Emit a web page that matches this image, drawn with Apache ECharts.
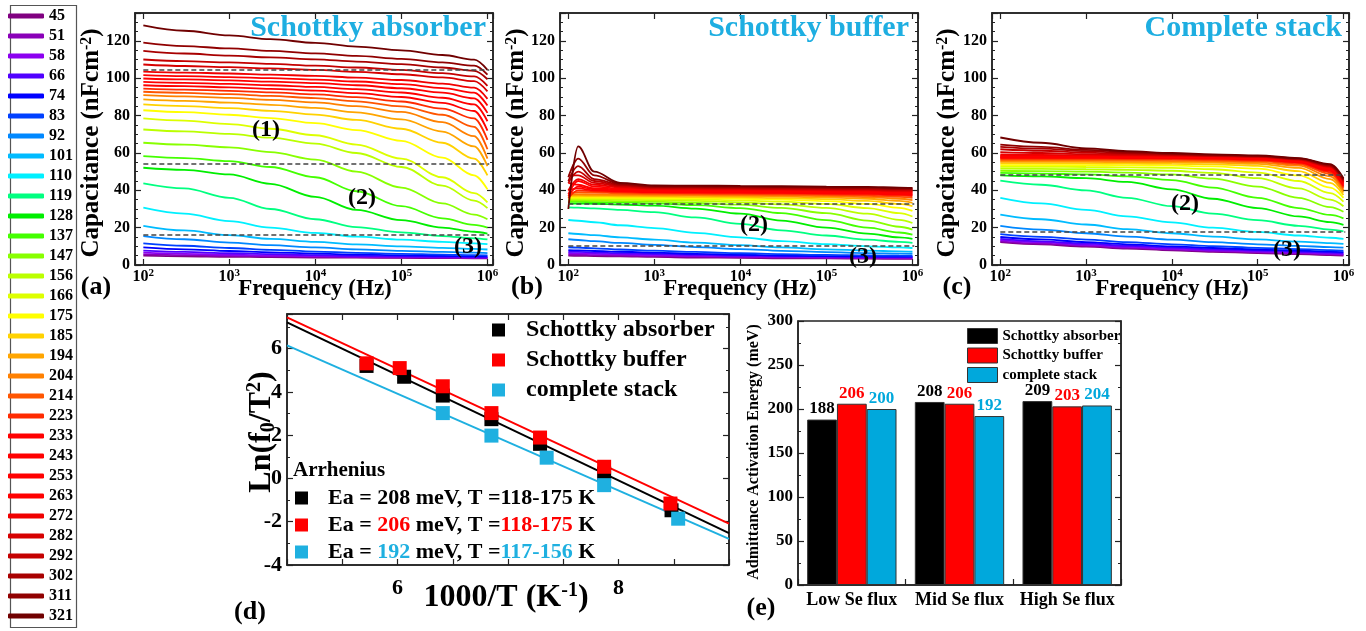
<!DOCTYPE html>
<html><head><meta charset="utf-8">
<script src="https://cdn.jsdelivr.net/npm/echarts@6/dist/echarts.min.js"></script>
<style>html,body{margin:0;padding:0;background:#fff}#c{width:1366px;height:631px}</style>
</head><body><div id="c"></div>
<script>
// ---------------- DATA ----------------
const TEMPS = ['45','51','58','66','74','83','92','101','110','119','128','137','147','156','166','175','185','194','204','214','223','233','243','253','263','272','282','292','302','311','321'];
const LINE_COLORS = ['#800080','#8a00b8','#8c00f0','#5000ff','#0000ff','#0040ff','#0088ff','#00bbff','#00f0ff','#00ff80','#00ee00','#44ff00','#88ff00','#bbff00','#ddff00','#ffff00','#ffd200','#ffa500','#ff8000','#ff5500','#ff2a00','#ff0000','#ff0000','#ff0000','#ff0000','#f00000','#d60000','#c40000','#a80000','#900000','#700000'];

// frequencies (Hz) of the sampled points
const FREQ = [100, 300, 1000, 3000, 1e4, 3e4, 1e5, 3e5, 7e5, 1e6];
const FREQ_B = [100, 130, 200, 400, 1000, 3000, 1e4, 3e4, 1e5, 3e5, 7e5, 1e6];

// (a) Schottky absorber, capacitance nF/cm2, one row per temperature
const CAP_A = [
 [5.0,4.7,4.4,4.2,4.0,3.9,3.8,3.7,3.6,3.5],
 [5.7,5.3,4.9,4.6,4.4,4.2,4.0,3.9,3.8,3.7],
 [6.6,6.0,5.5,5.1,4.8,4.5,4.3,4.1,4.0,3.9],
 [7.7,7.0,6.3,5.8,5.3,4.9,4.6,4.4,4.2,4.1],
 [9.4,8.4,7.5,6.8,6.1,5.6,5.2,4.9,4.7,4.6],
 [11.6,10.3,9.1,8.1,7.2,6.5,6.0,5.6,5.3,5.2],
 [15.5,13.8,12.0,10.6,9.4,8.4,7.6,7.0,6.6,6.4],
 [21.0,18.5,16.0,14.0,12.4,11.1,10.0,9.2,8.6,8.3],
 [30.7,27.5,23.5,20.0,17.2,15.2,13.6,12.4,11.6,11.2],
 [43.7,41.0,36.0,30.0,24.5,20.3,17.5,15.5,14.3,13.7],
 [52.1,51.0,48.5,43.5,36.5,29.5,24.0,20.0,17.8,16.8],
 [58.3,57.3,55.7,52.5,47.0,39.5,31.5,25.0,21.5,20.0],
 [65.5,64.5,63.0,60.5,56.5,50.0,41.5,33.0,27.0,24.5],
 [72.6,71.6,70.2,68.2,65.0,60.0,52.5,42.5,34.5,30.5],
 [78.5,77.3,75.5,73.0,69.5,64.5,57.0,47.0,38.5,33.5],
 [82.9,81.9,80.5,78.7,76.0,72.3,66.5,57.5,48.0,40.5],
 [86.0,85.1,84.0,82.6,80.6,77.7,73.0,65.5,57.0,48.0],
 [88.7,87.9,87.0,85.8,84.2,81.8,78.0,71.5,63.5,53.0],
 [91.0,90.3,89.5,88.5,87.1,85.1,82.0,76.5,69.0,57.0],
 [92.8,92.2,91.5,90.6,89.4,87.7,85.0,80.5,74.0,62.0],
 [94.5,94.0,93.3,92.5,91.4,89.9,87.6,83.8,78.5,67.0],
 [96.3,95.8,95.2,94.4,93.4,92.1,90.0,86.8,82.5,72.0],
 [98.1,97.6,97.0,96.3,95.4,94.2,92.4,89.6,86.0,77.0],
 [99.9,99.4,98.9,98.2,97.4,96.3,94.7,92.3,89.3,81.5],
 [101.7,101.2,100.7,100.1,99.3,98.3,96.9,94.8,92.3,85.5],
 [103.6,103.1,102.6,102.0,101.3,100.4,99.1,97.2,95.0,89.0],
 [107.4,106.6,106.0,105.3,104.5,103.5,102.2,100.5,98.5,93.0],
 [110.1,109.2,108.5,107.7,106.8,105.8,104.5,102.8,101.0,96.0],
 [114.7,113.3,112.2,111.2,110.2,109.0,107.6,105.8,104.0,99.5],
 [119.1,117.3,116.0,114.7,113.4,112.0,110.4,108.5,106.8,102.0],
 [128.4,125.5,123.0,121.0,119.0,117.0,115.0,112.5,110.0,104.5]
];

// (b) Schottky buffer (sampled at FREQ_B)
const CAP_B = [
 [5.0,4.9,4.8,4.6,4.3,4.0,3.8,3.6,3.5,3.4,3.3,3.3],
 [5.6,5.5,5.3,5.1,4.8,4.5,4.2,4.0,3.8,3.7,3.6,3.6],
 [6.3,6.2,6.0,5.7,5.3,4.9,4.6,4.3,4.1,4.0,3.9,3.9],
 [7.1,7.0,6.7,6.3,5.9,5.4,5.0,4.7,4.5,4.3,4.2,4.2],
 [8.0,7.8,7.5,7.1,6.6,6.0,5.5,5.1,4.8,4.6,4.5,4.5],
 [9.5,9.3,8.9,8.3,7.7,7.0,6.3,5.8,5.4,5.1,5.0,4.9],
 [13.8,13.4,12.8,11.8,10.8,9.6,8.5,7.6,6.9,6.4,6.1,6.0],
 [17.0,16.6,16.0,14.8,13.6,12.0,10.6,9.4,8.4,7.7,7.3,7.1],
 [24.1,23.7,22.9,21.3,19.8,17.2,14.8,12.8,11.2,10.0,9.4,9.1],
 [30.9,30.7,30.3,29.5,28.3,25.5,22.0,18.6,15.8,13.6,12.4,11.9],
 [33.0,32.9,32.8,32.4,31.8,30.2,27.5,23.8,20.0,16.8,14.8,14.0],
 [33.8,33.8,33.7,33.5,33.0,32.1,30.5,27.8,24.0,20.0,17.4,16.3],
 [34.5,34.5,34.4,34.2,33.9,33.3,32.3,30.6,27.8,23.8,20.5,19.0],
 [35.2,35.2,35.1,35.0,34.7,34.3,33.6,32.5,30.6,27.5,24.2,22.5],
 [35.8,35.8,35.7,35.6,35.4,35.1,34.6,33.9,32.7,30.5,27.8,26.0],
 [36.3,36.3,36.2,36.1,36.0,35.8,35.5,35.0,34.2,32.7,30.6,29.0],
 [36.8,36.8,36.8,36.7,36.6,36.4,36.2,35.8,35.3,34.3,32.7,31.5],
 [37.3,37.4,37.3,37.2,37.1,37.0,36.8,36.6,36.2,35.5,34.3,33.3],
 [37.8,38.0,37.8,37.7,37.6,37.5,37.4,37.2,36.9,36.4,35.5,34.8],
 [38.0,39.0,38.8,38.4,38.1,38.0,37.9,37.7,37.5,37.1,36.5,36.0],
 [36.0,40.0,39.5,39.0,38.6,38.5,38.4,38.2,38.0,37.7,37.3,36.9],
 [40.0,41.0,40.0,39.5,39.0,38.9,38.8,38.6,38.4,38.2,37.8,37.5],
 [37.0,42.0,40.5,40.0,39.4,39.3,39.2,39.0,38.8,38.6,38.3,38.0],
 [44.0,43.0,41.0,40.5,39.8,39.7,39.6,39.4,39.2,39.0,38.7,38.5],
 [38.0,45.0,42.0,41.0,40.2,40.1,40.0,39.8,39.6,39.4,39.1,39.0],
 [40.0,46.0,43.0,41.5,40.6,40.5,40.4,40.2,40.0,39.8,39.5,39.4],
 [48.0,48.0,44.0,42.0,41.0,40.9,40.8,40.6,40.4,40.2,39.9,39.8],
 [44.0,50.0,45.0,42.5,41.4,41.3,41.2,41.0,40.8,40.6,40.3,40.2],
 [45.0,53.0,46.0,43.0,41.8,41.7,41.6,41.4,41.2,41.0,40.7,40.6],
 [47.0,57.0,48.0,43.5,42.2,42.1,42.0,41.8,41.6,41.4,41.1,41.0],
 [30.0,63.5,50.0,44.0,42.6,42.5,42.4,42.2,42.0,41.8,41.5,41.3]
];

// (c) Complete stack
const CAP_C = [
 [12.2,11.0,9.8,8.8,7.9,7.1,6.4,5.8,5.3,5.0],
 [12.7,11.5,10.3,9.2,8.3,7.5,6.8,6.2,5.7,5.4],
 [13.3,12.1,10.8,9.7,8.7,7.9,7.2,6.6,6.1,5.8],
 [14.0,12.7,11.4,10.3,9.3,8.4,7.7,7.1,6.6,6.3],
 [15.0,13.7,12.3,11.1,10.0,9.1,8.3,7.7,7.2,6.9],
 [16.5,15.1,13.6,12.3,11.1,10.1,9.2,8.5,8.0,7.7],
 [21.0,19.0,17.0,15.2,13.6,12.3,11.1,10.2,9.6,9.3],
 [27.0,24.5,21.7,19.2,17.0,15.2,13.7,12.5,11.7,11.3],
 [36.0,33.0,29.5,26.0,22.8,20.0,17.7,15.8,14.6,14.0],
 [45.2,43.0,40.0,36.0,31.5,27.5,24.0,21.0,19.0,18.0],
 [48.0,47.5,46.5,44.5,40.5,35.5,30.5,26.0,23.0,21.5],
 [49.3,49.0,48.5,47.5,45.5,41.5,36.0,30.5,26.8,25.0],
 [50.5,50.3,50.0,49.5,48.5,46.3,42.0,36.0,31.0,28.5],
 [51.6,51.5,51.3,51.0,50.5,49.3,46.5,41.0,35.0,31.5],
 [52.6,52.6,52.5,52.3,52.0,51.3,49.5,45.0,38.5,34.0],
 [53.5,53.5,53.5,53.4,53.2,52.8,51.6,48.0,41.5,36.0],
 [54.4,54.4,54.4,54.3,54.2,53.9,53.1,50.3,44.0,37.5],
 [55.2,55.2,55.2,55.1,55.0,54.8,54.2,52.0,46.0,38.8],
 [55.9,55.9,55.9,55.8,55.7,55.5,55.0,53.2,47.5,40.0],
 [56.5,56.5,56.5,56.4,56.3,56.1,55.6,54.0,48.8,41.0],
 [57.0,57.0,57.0,56.9,56.8,56.6,56.1,54.6,49.7,41.8],
 [57.4,57.4,57.4,57.3,57.2,57.0,56.5,55.0,50.4,42.4],
 [57.8,57.8,57.8,57.7,57.6,57.4,56.9,55.4,51.0,43.0],
 [58.2,58.2,58.1,58.0,57.9,57.7,57.2,55.7,51.5,43.5],
 [58.6,58.5,58.4,58.3,58.2,58.0,57.5,56.0,52.0,44.0],
 [59.2,59.0,58.8,58.6,58.4,58.2,57.7,56.3,52.4,44.4],
 [60.5,60.0,59.4,59.0,58.7,58.4,57.9,56.5,52.7,44.8],
 [62.0,61.2,60.2,59.5,59.0,58.6,58.1,56.7,53.0,45.2],
 [63.3,62.3,61.0,60.0,59.3,58.8,58.3,56.9,53.3,45.6],
 [64.5,63.3,61.7,60.5,59.6,59.0,58.5,57.1,53.6,46.0],
 [68.3,65.5,62.5,61.0,60.0,59.3,58.7,57.3,54.0,46.5]
];

// dashed region boundaries (capacitance)
const DASH_A = [104.5, 54, 16];
const DASH_B = [33, 10.3];
const DASH_C = [48.3, 17.8];

// (d) Arrhenius plot: 1000/T vs ln(f0/T^2)
const SERIES_NAMES = ['Schottky absorber', 'Schottky buffer', 'complete stack'];
const ARR_X_ABS = [5.72, 6.06, 6.41, 6.85, 7.29, 7.87, 8.48];
const ARR_Y_ABS = [5.20, 4.70, 3.83, 2.74, 1.60, 0.23, -1.47];
const ARR_X_BUF = [5.72, 6.02, 6.41, 6.85, 7.29, 7.87, 8.47];
const ARR_Y_BUF = [5.32, 5.10, 4.26, 3.02, 1.89, 0.54, -1.16];
const ARR_X_STK = [6.41, 6.85, 7.35, 7.87, 8.54];
const ARR_Y_STK = [3.02, 1.98, 0.96, -0.31, -1.86];
const FIT_X = [5, 9];
const FIT_ABS = [7.21, -2.53];
const FIT_BUF = [7.44, -2.09];
const FIT_STK = [6.15, -2.79];
const T_RANGE = ['118-175', '118-175', '117-156'];

// (e) activation energies (meV)
const FLUX_CATS = ['Low Se flux', 'Mid Se flux', 'High Se flux'];
const EA_ABS = [188, 208, 209];
const EA_BUF = [206, 206, 203];
const EA_STK = [200, 192, 204];

// ---------------- CHART ----------------
const FF = '"Liberation Serif","Times New Roman",serif';
const AXC = '#222';
const CYAN = '#1eaee1';
const BLUE_D = '#1fb0e0';
const BLUE_E = '#00a8dc';
const F_MIN = 80, F_MAX = 1.16e6;

function lbl(size, extra) {
  return Object.assign({fontFamily: FF, fontWeight: 'bold', fontSize: size, color: '#000'}, extra || {});
}
const axLine = {show: true, onZero: false, lineStyle: {color: AXC, width: 1.5}};

function xLog(gridIndex, top) {
  return {
    type: 'log', logBase: 10, gridIndex: gridIndex, position: top ? 'top' : 'bottom',
    min: F_MIN, max: F_MAX,
    axisLine: axLine,
    axisTick: {show: true, inside: true, length: 6, lineStyle: {color: AXC, width: 1.2}},
    splitLine: {show: false},
    axisLabel: top ? {show: false} : lbl(16, {
      margin: 3,
      formatter: function (v) {
        const n = Math.log10(v), r = Math.round(n);
        return Math.abs(n - r) < 1e-6 ? '10{s|' + r + '}' : '';
      },
      rich: {s: {fontFamily: FF, fontWeight: 'bold', fontSize: 11, color: '#000', verticalAlign: 'bottom', padding: [0, 0, 7, 0]}}
    })
  };
}
function yVal(gridIndex, right, min, max, interval, minorSplit, fs, margin, showMax) {
  return {
    type: 'value', gridIndex: gridIndex, position: right ? 'right' : 'left',
    min: min, max: max, interval: interval,
    axisLine: axLine,
    axisTick: {show: true, inside: true, length: 6, lineStyle: {color: AXC, width: 1.2}},
    minorTick: {show: true, splitNumber: minorSplit, length: 3, lineStyle: {color: AXC, width: 1}},
    splitLine: {show: false}, minorSplitLine: {show: false},
    axisLabel: right ? {show: false} : lbl(fs, {margin: margin, showMaxLabel: !!showMax})
  };
}

const grids = [
  {left: 135, top: 13, width: 358, height: 252},
  {left: 560, top: 13, width: 358, height: 252},
  {left: 992, top: 13, width: 357, height: 252},
  {left: 287, top: 314, width: 442, height: 251},
  {left: 798, top: 321, width: 323, height: 264}
].map(g => Object.assign({show: true, borderColor: AXC, borderWidth: 1.5, backgroundColor: 'transparent'}, g));

const xAxis = [
  xLog(0, false), xLog(0, true),
  xLog(1, false), xLog(1, true),
  xLog(2, false), xLog(2, true),
  {
    type: 'value', gridIndex: 3, position: 'bottom', min: 5, max: 9, interval: 0.5,
    axisLine: axLine,
    axisTick: {show: true, inside: true, length: 6, lineStyle: {color: AXC, width: 1.2}},
    splitLine: {show: false},
    axisLabel: lbl(22, {margin: 12, formatter: v => (v === 6 || v === 8) ? String(v) : ''})
  },
  {
    type: 'value', gridIndex: 3, position: 'top', min: 5, max: 9, interval: 0.5,
    axisLine: axLine,
    axisTick: {show: true, inside: true, length: 6, lineStyle: {color: AXC, width: 1.2}},
    splitLine: {show: false}, axisLabel: {show: false}
  },
  {
    type: 'category', gridIndex: 4, data: FLUX_CATS, position: 'bottom',
    axisLine: axLine,
    axisTick: {show: true, inside: true, length: 6, lineStyle: {color: AXC, width: 1.2}},
    axisLabel: lbl(18, {margin: 6, interval: 0, hideOverlap: false})
  }
];
const yAxis = [
  yVal(0, false, 0, 135, 20, 4, 16, 5), yVal(0, true, 0, 135, 20, 4, 16, 5),
  yVal(1, false, 0, 135, 20, 4, 16, 5), yVal(1, true, 0, 135, 20, 4, 16, 5),
  yVal(2, false, 0, 135, 20, 4, 16, 5), yVal(2, true, 0, 135, 20, 4, 16, 5),
  yVal(3, false, -4, 7.6, 2, 2, 22, 5), yVal(3, true, -4, 7.6, 2, 2, 22, 5),
  yVal(4, false, 0, 300, 50, 2, 17, 5, true), yVal(4, true, 0, 300, 50, 2, 17, 5)
];

const series = [];
function capSeries(panel, freqs, table, dashes) {
  TEMPS.forEach((t, i) => {
    const s = {
      type: 'line', name: t, xAxisIndex: panel * 2, yAxisIndex: panel * 2,
      data: freqs.map((f, k) => [f, table[i][k]]),
      showSymbol: false, symbol: 'none', smooth: 0.35, smoothMonotone: 'x',
      lineStyle: {color: LINE_COLORS[i], width: 1.8},
      itemStyle: {color: LINE_COLORS[i]},
      z: 2 + i / 100
    };
    if (i === 0) {
      s.markLine = {
        silent: true, symbol: 'none', animation: false,
        lineStyle: {color: '#444', width: 1.5, type: [5, 3]},
        label: {show: false},
        data: dashes.map(v => [{coord: [100, v]}, {coord: [1.05e6, v]}])
      };
    }
    series.push(s);
  });
}
capSeries(0, FREQ, CAP_A, DASH_A);
capSeries(1, FREQ_B, CAP_B, DASH_B);
capSeries(2, FREQ, CAP_C, DASH_C);

// (d)
const ARR_COLORS = ['#000000', '#ff0000', BLUE_D];
[FIT_ABS, FIT_BUF, FIT_STK].forEach((f, i) => {
  series.push({
    type: 'line', name: 'fit ' + i, xAxisIndex: 6, yAxisIndex: 6,
    data: FIT_X.map((x, k) => [x, f[k]]), symbol: 'none',
    lineStyle: {color: ARR_COLORS[i], width: 2}, z: 3
  });
});
[[ARR_X_ABS, ARR_Y_ABS], [ARR_X_BUF, ARR_Y_BUF], [ARR_X_STK, ARR_Y_STK]].forEach((p, i) => {
  series.push({
    type: 'scatter', name: SERIES_NAMES[i], xAxisIndex: 6, yAxisIndex: 6,
    data: p[0].map((x, k) => [x, p[1][k]]), symbol: 'rect', symbolSize: 14,
    itemStyle: {color: ARR_COLORS[i], opacity: 1}, z: 4 + i
  });
});

// (e)
const BAR_COLORS = ['#000000', '#ff0000', BLUE_E];
[EA_ABS, EA_BUF, EA_STK].forEach((d, i) => {
  series.push({
    type: 'bar', name: SERIES_NAMES[i], xAxisIndex: 8, yAxisIndex: 8, data: d,
    barGap: '0%', barCategoryGap: '17%',
    itemStyle: {color: BAR_COLORS[i], borderColor: '#333', borderWidth: 1, opacity: 1},
    label: {show: true, position: 'top', distance: 2, fontFamily: FF, fontWeight: 'bold', fontSize: 17, color: i === 0 ? '#000' : BAR_COLORS[i]}
  });
});

const legend = [
  {
    data: TEMPS, orient: 'vertical', left: 8, top: 8, padding: 0,
    itemWidth: 36, itemHeight: 5, itemGap: 4, icon: 'roundRect', selectedMode: false,
    textStyle: lbl(16, {lineHeight: 16})
  },
  {
    data: SERIES_NAMES.map((n, i) => ({name: n, itemStyle: {color: ARR_COLORS[i], opacity: 1}})),
    orient: 'vertical', left: 492, top: 318, padding: 0,
    itemWidth: 13, itemHeight: 13, itemGap: 6, icon: 'rect', selectedMode: false,
    textStyle: lbl(24, {lineHeight: 24, padding: [0, 0, 0, 16]})
  },
  {
    data: SERIES_NAMES.map((n, i) => ({name: n, itemStyle: {color: ARR_COLORS[i], opacity: 1}})),
    orient: 'vertical', left: 295, top: 487, padding: 0,
    itemWidth: 13, itemHeight: 13, itemGap: 5, icon: 'rect', selectedMode: false,
    formatter: function (name) {
      const i = SERIES_NAMES.indexOf(name);
      const ea = [EA_ABS, EA_BUF, EA_STK][i][1];
      const tag = ['k', 'r', 'b'][i];
      return 'Ea = {' + tag + '|' + ea + '} meV, T ={' + tag + '|' + T_RANGE[i] + '} K';
    },
    textStyle: lbl(22, {lineHeight: 22, padding: [0, 0, 0, 15], rich: {
      k: lbl(22, {color: '#000'}), r: lbl(22, {color: '#ff0000'}), b: lbl(22, {color: BLUE_D})
    }})
  },
  {
    data: SERIES_NAMES.map((n, i) => ({name: n, itemStyle: {color: BAR_COLORS[i], borderColor: '#333', borderWidth: 1, opacity: 1}})),
    orient: 'vertical', left: 967, top: 328, padding: 0,
    itemWidth: 30, itemHeight: 15, itemGap: 3.5, icon: 'rect', selectedMode: false,
    textStyle: lbl(15, {lineHeight: 15})
  }
];

function gtext(x, y, text, size, o) {
  o = o || {};
  const rich = {
    s: {fontFamily: FF, fontWeight: 'bold', fontSize: Math.round(size * 0.62), fill: o.color || '#000', verticalAlign: 'bottom', padding: [0, 0, Math.round(size * 0.45), 0]},
    d: {fontFamily: FF, fontWeight: 'bold', fontSize: Math.round(size * 0.62), fill: o.color || '#000', verticalAlign: 'bottom', padding: [0, 0, 0, 0]}
  };
  return {
    type: 'text', x: x, y: y, rotation: o.rot || 0, z: 100, silent: true,
    style: {text: text, fontFamily: FF, fontWeight: 'bold', fontSize: size, fill: o.color || '#000',
      align: o.align || 'center', verticalAlign: 'middle', rich: rich}
  };
}
const R = Math.PI / 2;
const graphic = [
  {type: 'rect', shape: {x: 10.5, y: 5.5, width: 66, height: 622}, style: {fill: 'none', stroke: '#555', lineWidth: 1.2}, z: 0, silent: true},
  gtext(486, 28, 'Schottky absorber', 30, {align: 'right', color: CYAN}),
  gtext(909, 28, 'Schottky buffer', 30, {align: 'right', color: CYAN}),
  gtext(1342, 28, 'Complete stack', 30, {align: 'right', color: CYAN}),
  gtext(92, 143, 'Capacitance (nFcm{s|-2})', 25, {rot: R}),
  gtext(517, 143, 'Capacitance (nFcm{s|-2})', 25, {rot: R}),
  gtext(948, 143, 'Capacitance (nFcm{s|-2})', 25, {rot: R}),
  gtext(315, 289, 'Frequency (Hz)', 23),
  gtext(740, 289, 'Frequency (Hz)', 23),
  gtext(1172, 289, 'Frequency (Hz)', 23),
  gtext(96, 287, '(a)', 26),
  gtext(527, 287, '(b)', 26),
  gtext(957, 287, '(c)', 26),
  gtext(250, 612, '(d)', 26),
  gtext(761, 608, '(e)', 26),
  gtext(266, 130, '(1)', 24),
  gtext(362, 198, '(2)', 24),
  gtext(468, 247, '(3)', 24),
  gtext(754, 225, '(2)', 24),
  gtext(863, 257, '(3)', 24),
  gtext(1185, 204, '(2)', 24),
  gtext(1287, 250, '(3)', 24),
  gtext(262, 432, 'Ln(f{d|0}/T{s|2})', 32, {rot: R}),
  gtext(506, 598, '1000/T (K{s|-1})', 32),
  gtext(293, 471, 'Arrhenius', 21, {align: 'left'}),
  gtext(754, 452, 'Admittance Activation Energy (meV)', 16, {rot: R})
];

const chart = echarts.init(document.getElementById('c'), null, {renderer: 'canvas'});
chart.setOption({
  animation: false,
  backgroundColor: '#fff',
  grid: grids, xAxis: xAxis, yAxis: yAxis, series: series, legend: legend, graphic: graphic
});
</script>
</body></html>
